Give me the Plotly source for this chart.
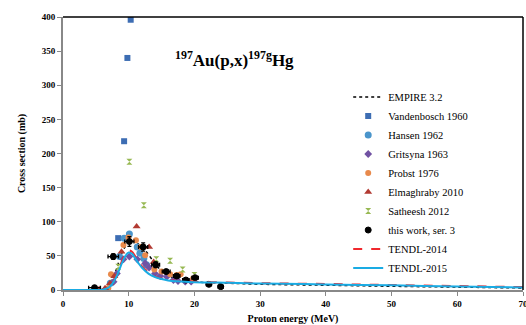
import plotly.graph_objects as go

# ---------------- data ----------------
empire_e = [5, 6, 7, 8, 9, 10, 10.8, 11.5, 12.5, 14, 15, 16, 18, 20, 25, 30, 40, 50, 60, 70]
empire_y = [0, 1, 7, 27, 55, 70, 72, 67, 58, 39, 28, 21, 15, 12, 10, 8.5, 7, 5.5, 4.2, 3]

vand_e = [8.4, 9.3, 9.8, 10.3]
vand_y = [76, 218, 340, 396]

hansen_e = [7.2, 8.6, 9.3, 10.1, 11.3, 11.7, 12.3, 12.7]
hansen_y = [10, 49, 76, 82, 63, 54, 46, 37]

grits_e = [7.7, 8.2, 9.2, 10.1, 11.3, 12.5, 13.1, 14.0, 14.8, 15.8, 16.8, 17.5, 18.6, 19.5]
grits_y = [12, 24, 45, 49, 45, 39, 33, 24, 20.5, 19.5, 14.6, 13.2, 12.2, 12.2]

probst_e = [6.9, 7.3, 9.2, 9.95, 11.1, 11.8, 12.5, 13.9, 15.0, 16.3, 17.3, 17.9, 19.8]
probst_y = [3, 23, 66, 77, 73, 63, 51, 30, 27, 23, 22, 23, 17]

elm_e = [5.5, 6.4, 7.15, 7.8, 8.9, 11.2, 13.1, 13.8]
elm_y = [1, 2.5, 10, 20, 56, 93, 63, 41]

sath_e = [8.4, 10.1, 12.3, 14.2, 16.3, 18.2, 20.0]
sath_y = [34, 188, 124, 45, 43, 30, 22]

work_e = [4.8, 7.65, 10.1, 12.2, 14.1, 15.7, 17.3, 18.7, 20.1, 22.2, 24.0]
work_y = [3.4, 49, 71, 63, 37, 27, 20.5, 14.6, 18, 8.3, 4.9]
work_ex = [0.9, 0.8, 0.7, 0.7, 0.6, 0.6, 0.5, 0.5, 0.5, 0.4, 0.4]
work_ey = [1.5, 4, 7, 6, 4, 3, 2.5, 2, 2, 1.5, 1]

tendl14_e = [0, 5, 6, 6.5, 7, 7.5, 8, 8.5, 9, 9.5, 10, 10.5, 11, 11.5, 12, 13, 14, 15, 16, 18, 20, 25, 30, 40, 50, 60, 70]
tendl14_y = [0, 0, 0.5, 1.5, 4, 9, 18, 30, 43, 53, 58, 56, 49, 41, 35, 26, 20, 16.5, 14.5, 13, 12, 11, 10, 8.8, 7.3, 5.8, 4.2]

tendl15_e = [0, 5, 6, 6.5, 7, 7.5, 8, 8.5, 9, 9.5, 10, 10.5, 11, 11.5, 12, 13, 14, 15, 16, 18, 20, 25, 30, 40, 50, 60, 70]
tendl15_y = [0, 0, 0.5, 1.5, 4, 9, 17, 28, 40, 50, 55, 53, 46, 39, 33, 24, 19, 16, 14, 12.5, 11.5, 10.5, 9.5, 8.2, 6.8, 5.2, 3.6]

# ---------------- figure ----------------
fig = go.Figure()

fig.add_trace(go.Scatter(x=empire_e, y=empire_y, mode="lines", name="EMPIRE 3.2",
                         line=dict(color="black", width=1.5, dash="dot"), line_shape="spline"))
fig.add_trace(go.Scatter(x=vand_e, y=vand_y, mode="markers", name="Vandenbosch 1960",
                         marker=dict(symbol="square", size=6, color="#3D6DB3")))
fig.add_trace(go.Scatter(x=hansen_e, y=hansen_y, mode="markers", name="Hansen 1962",
                         marker=dict(symbol="circle", size=7, color="#4A95CB")))
fig.add_trace(go.Scatter(x=grits_e, y=grits_y, mode="markers", name="Gritsyna 1963",
                         marker=dict(symbol="diamond", size=6, color="#7152A3")))
fig.add_trace(go.Scatter(x=probst_e, y=probst_y, mode="markers", name="Probst 1976",
                         marker=dict(symbol="circle", size=6, color="#E8894B")))
fig.add_trace(go.Scatter(x=elm_e, y=elm_y, mode="markers", name="Elmaghraby 2010",
                         marker=dict(symbol="triangle-up", size=7, color="#B23A32")))
fig.add_trace(go.Scatter(x=sath_e, y=sath_y, mode="markers", name="Satheesh 2012",
                         marker=dict(symbol="hourglass", size=6, color="#98B954")))
fig.add_trace(go.Scatter(x=work_e, y=work_y, mode="markers", name="this work, ser. 3",
                         marker=dict(symbol="circle", size=6, color="black",
                                     line=dict(width=1, color="black")),
                         error_x=dict(type="data", array=work_ex, color="black", thickness=1.3, width=2),
                         error_y=dict(type="data", array=work_ey, color="black", thickness=1.3, width=2)))
fig.add_trace(go.Scatter(x=tendl14_e, y=tendl14_y, mode="lines", name="TENDL-2014",
                         line=dict(color="#F0282D", width=2, dash="dash"), line_shape="spline"))
fig.add_trace(go.Scatter(x=tendl15_e, y=tendl15_y, mode="lines", name="TENDL-2015",
                         line=dict(color="#1AABE3", width=2), line_shape="spline"))

font_family = "Liberation Serif"

fig.update_layout(
    width=526, height=325,
    margin=dict(l=63, r=3, t=17, b=35),
    paper_bgcolor="white", plot_bgcolor="white",
    font=dict(family=font_family, color="black", size=10),
    showlegend=True,
    legend=dict(x=0.62, y=0.76, xanchor="left", yanchor="top",
                font=dict(family=font_family, size=10.5, color="black"),
                bgcolor="rgba(0,0,0,0)", tracegroupgap=0, itemwidth=30),
    xaxis=dict(range=[0, 70], dtick=10, showgrid=False, zeroline=False, automargin=False,
               ticklabeloverflow="allow",
               showline=True, linecolor="#888888", linewidth=2,
               ticks="outside", ticklen=4, tickcolor="#888888",
               tickfont=dict(family=font_family, size=9, color="black", weight="bold"),
               title=dict(text="<b>Proton energy (MeV)</b>", font=dict(family=font_family, size=10), standoff=8)),
    yaxis=dict(range=[0, 400], dtick=50, showgrid=False, zeroline=False, automargin=False,
               ticklabeloverflow="allow",
               showline=True, linecolor="#888888", linewidth=2,
               ticks="outside", ticklen=4, tickcolor="#888888",
               tickfont=dict(family=font_family, size=9, color="black", weight="bold"),
               title=dict(text="<b>Cross section (mb)</b>", font=dict(family=font_family, size=10), standoff=14)),
    annotations=[dict(text="<b><sup>197</sup>Au(p,x)<sup>197g</sup>Hg</b>", x=0.372, y=0.895,
                      xref="paper", yref="paper", showarrow=False,
                      font=dict(family=font_family, size=17, color="black"))],
    shapes=[
        dict(type="line", xref="paper", yref="paper", x0=0, x1=1, y0=1, y1=1,
             line=dict(color="black", width=1.5)),
        dict(type="line", xref="paper", yref="paper", x0=1, x1=1, y0=0, y1=1,
             line=dict(color="black", width=1.5)),
    ],
)

fig.write_html("out.html")
